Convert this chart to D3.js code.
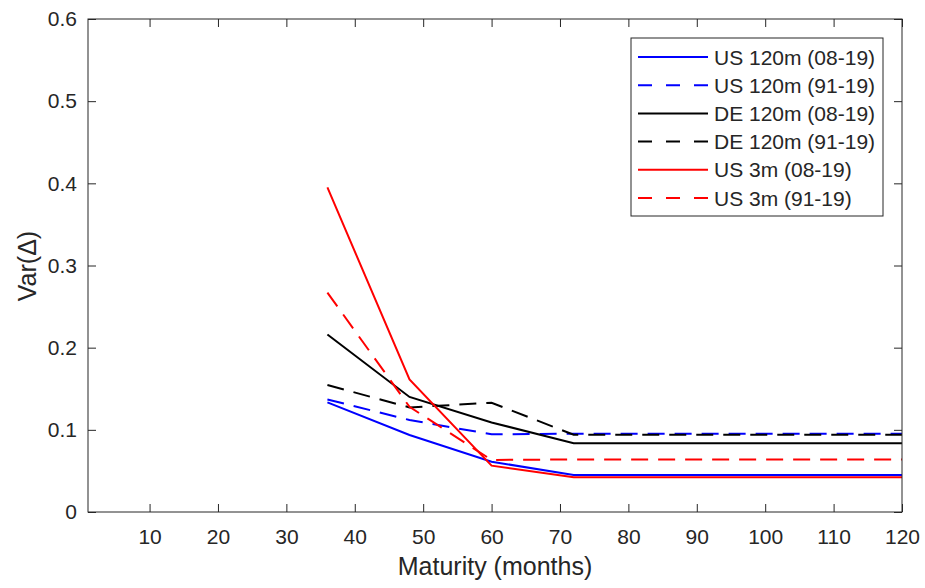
<!DOCTYPE html>
<html>
<head>
<meta charset="utf-8">
<script src="https://cdn.jsdelivr.net/npm/d3@7"></script>
<style>
  body { margin: 0; background: #fff; }
  text { font-family: "Liberation Sans", Arial, sans-serif; fill: #262626; }
</style>
</head>
<body>
<script>
// maturities (months) and variance of the change, one array per series
var maturities = [36, 48, 60, 72, 84, 96, 108, 120];
var us120_0819 = [0.1334, 0.0937, 0.0612, 0.0450, 0.0450, 0.0450, 0.0450, 0.0450];
var us120_9119 = [0.1370, 0.1120, 0.0945, 0.0953, 0.0953, 0.0953, 0.0953, 0.0953];
var de120_0819 = [0.2160, 0.1400, 0.1090, 0.0836, 0.0836, 0.0836, 0.0836, 0.0836];
var de120_9119 = [0.1545, 0.1273, 0.1330, 0.0940, 0.0940, 0.0940, 0.0940, 0.0940];
var us3_0819   = [0.3950, 0.1614, 0.0564, 0.0422, 0.0422, 0.0422, 0.0422, 0.0422];
var us3_9119   = [0.2670, 0.1280, 0.0633, 0.0640, 0.0640, 0.0640, 0.0640, 0.0640];

var seriesNames = ["US 120m (08-19)", "US 120m (91-19)", "DE 120m (08-19)",
                   "DE 120m (91-19)", "US 3m (08-19)", "US 3m (91-19)"];
var xTicks = [10, 20, 30, 40, 50, 60, 70, 80, 90, 100, 110, 120];
var yTicks = [0, 0.1, 0.2, 0.3, 0.4, 0.5, 0.6];

var series = [
  {name: seriesNames[0], values: us120_0819, color: "#0000ff", dash: null},
  {name: seriesNames[1], values: us120_9119, color: "#0000ff", dash: "17,10"},
  {name: seriesNames[2], values: de120_0819, color: "#000000", dash: null},
  {name: seriesNames[3], values: de120_9119, color: "#000000", dash: "17,10"},
  {name: seriesNames[4], values: us3_0819,   color: "#ff0000", dash: null},
  {name: seriesNames[5], values: us3_9119,   color: "#ff0000", dash: "17,10"}
];

var margin = {top: 19, right: 23, bottom: 76, left: 88};
var width = 925 - margin.left - margin.right;
var height = 588 - margin.top - margin.bottom;

var svg = d3.select("body").append("svg")
  .attr("width", 925)
  .attr("height", 588);

var g = svg.append("g")
  .attr("transform", "translate(" + margin.left + "," + margin.top + ")");

var xScale = d3.scaleLinear().domain([1, 120]).range([0, width]);
var yScale = d3.scaleLinear().domain([0, 0.6]).range([height, 0]);

// lines
var line = d3.line()
  .x(function(d) { return xScale(d[0]); })
  .y(function(d) { return yScale(d[1]); });

series.forEach(function(s) {
  g.append("path")
    .datum(maturities.map(function(m, i) { return [m, s.values[i]]; }))
    .attr("d", line)
    .attr("fill", "none")
    .attr("stroke", s.color)
    .attr("stroke-width", 2)
    .attr("stroke-dasharray", s.dash);
});

// axes (box with mirrored inward ticks)
var axisColor = "#262626";
function styleAxis(sel) {
  sel.select(".domain").remove();
  sel.selectAll(".tick line").attr("stroke", axisColor);
  sel.selectAll(".tick text")
    .style("font-size", "21px")
    .attr("fill", axisColor);
}

var xAxis = g.append("g")
  .attr("transform", "translate(0," + height + ")")
  .call(d3.axisBottom(xScale).tickValues(xTicks).tickSizeInner(-8).tickSizeOuter(0).tickPadding(17));
styleAxis(xAxis);

var xAxisTop = g.append("g")
  .call(d3.axisTop(xScale).tickValues(xTicks).tickSizeInner(-8).tickSizeOuter(0).tickFormat(""));
styleAxis(xAxisTop);

var yAxis = g.append("g")
  .call(d3.axisLeft(yScale).tickValues(yTicks).tickSizeInner(-8).tickSizeOuter(0).tickPadding(11)
        .tickFormat(function(d) { return d === 0 ? "0" : d3.format(".1f")(d); }));
styleAxis(yAxis);

var yAxisRight = g.append("g")
  .attr("transform", "translate(" + width + ",0)")
  .call(d3.axisRight(yScale).tickValues(yTicks).tickSizeInner(-8).tickSizeOuter(0).tickFormat(""));
styleAxis(yAxisRight);

g.append("rect")
  .attr("x", 0).attr("y", 0)
  .attr("width", width).attr("height", height)
  .attr("fill", "none")
  .attr("stroke", axisColor)
  .attr("stroke-width", 1);

// axis labels
svg.append("text")
  .attr("x", margin.left + width / 2)
  .attr("y", 575)
  .attr("text-anchor", "middle")
  .style("font-size", "25px")
  .text("Maturity (months)");

svg.append("text")
  .attr("transform", "translate(36,266) rotate(-90)")
  .attr("text-anchor", "middle")
  .style("font-size", "25px")
  .text("Var(\u0394)");

// legend
var legend = svg.append("g").attr("transform", "translate(631,38)");
legend.append("rect")
  .attr("width", 252).attr("height", 178)
  .attr("fill", "#fff")
  .attr("stroke", axisColor)
  .attr("stroke-width", 1);

series.forEach(function(s, i) {
  var yy = 19 + i * 28.2;
  legend.append("line")
    .attr("x1", 7).attr("x2", 77)
    .attr("y1", yy).attr("y2", yy)
    .attr("stroke", s.color)
    .attr("stroke-width", 2)
    .attr("stroke-dasharray", s.dash ? "14,14" : null);
  legend.append("text")
    .attr("x", 83).attr("y", yy + 7.5)
    .style("font-size", "21px")
    .attr("fill", "#000")
    .text(s.name);
});
</script>
</body>
</html>
